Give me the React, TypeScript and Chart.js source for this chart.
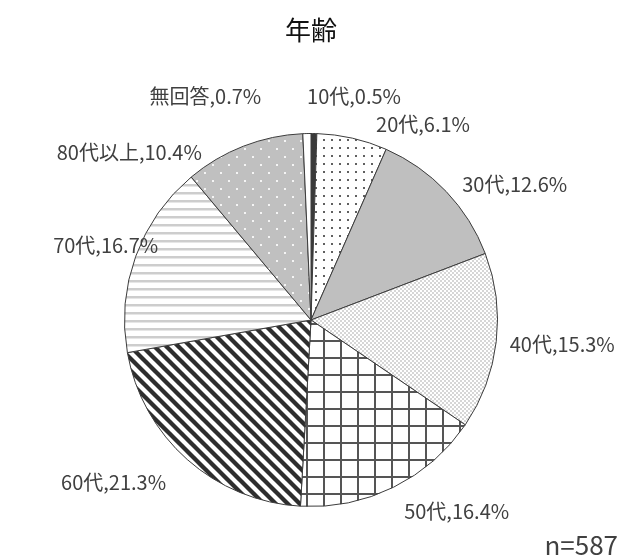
import React, { useEffect, useRef } from "react";
import { Chart, registerables } from "chart.js";

Chart.register(...registerables);

const categories = ["10代", "20代", "30代", "40代", "50代", "60代", "70代", "80代以上", "無回答"];
const percentages = [0.5, 6.1, 12.6, 15.3, 16.4, 21.3, 16.7, 10.4, 0.7];
const chartTitle = "年齢";
const sampleNote = "n=587";

// label layout relative to each slice: angular nudge (deg) and gap beyond rim (px)
const labelAngleNudge = [10, 17, 10, -1, -11, 9, 0, -26, -24];
const labelRimGap = [41, 39, 58, 66, 54, 69, 32, 61, 61];

function tile(w: number, h: number, draw: (c: CanvasRenderingContext2D) => void): CanvasPattern | string {
  const cv = document.createElement("canvas");
  cv.width = w;
  cv.height = h;
  const c = cv.getContext("2d");
  if (!c) return "#fff";
  draw(c);
  const p = c.createPattern(cv, "repeat");
  return p || "#fff";
}

function makeFills(): (CanvasPattern | string)[] {
  const dark = "#3a3a3a";
  const dotsDark = tile(8, 8, (c) => {
    c.fillStyle = "#fff";
    c.fillRect(0, 0, 8, 8);
    c.fillStyle = "#606060";
    c.fillRect(3, 3, 2, 2);
  });
  const fineDots = tile(4, 4, (c) => {
    c.fillStyle = "#fff";
    c.fillRect(0, 0, 4, 4);
    c.fillStyle = "#d6d6d6";
    c.fillRect(0, 0, 2, 2);
    c.fillRect(2, 2, 2, 2);
  });
  const grid = tile(17, 17, (c) => {
    c.fillStyle = "#fff";
    c.fillRect(0, 0, 17, 17);
    c.fillStyle = "#555555";
    c.fillRect(0, 0, 2, 17);
    c.fillRect(0, 0, 17, 2);
  });
  const diag = tile(12, 12, (c) => {
    c.fillStyle = "#fff";
    c.fillRect(0, 0, 12, 12);
    c.strokeStyle = "#2e2e2e";
    c.lineWidth = 4.3;
    for (let k = -1; k <= 1; k++) {
      c.beginPath();
      c.moveTo(k * 12 - 2, -2);
      c.lineTo(k * 12 + 14, 14);
      c.stroke();
    }
  });
  const hLines = tile(8, 8, (c) => {
    c.fillStyle = "#fff";
    c.fillRect(0, 0, 8, 8);
    c.fillStyle = "#cdcdcd";
    c.fillRect(0, 0, 8, 2.5);
  });
  const greyWhiteDots = tile(16, 16, (c) => {
    c.fillStyle = "#c0c0c0";
    c.fillRect(0, 0, 16, 16);
    c.fillStyle = "#f4f4f4";
    c.fillRect(4, 4, 2, 2);
    c.fillRect(12, 12, 2, 2);
  });
  return [dark, dotsDark, "#bfbfbf", fineDots, grid, diag, hLines, greyWhiteDots, "#ffffff"];
}

const labelPlugin = {
  id: "outerLabels",
  afterDraw(chart: any) {
    const ctx: CanvasRenderingContext2D = chart.ctx;
    const meta = chart.getDatasetMeta(0);
    const area = chart.chartArea;
    ctx.save();
    ctx.textAlign = "center";
    ctx.textBaseline = "middle";
    ctx.fillStyle = "#404040";
    ctx.font = '20px "Noto Sans CJK JP"';
    meta.data.forEach((arc: any, i: number) => {
      const p = arc.getProps(["x", "y", "startAngle", "endAngle", "outerRadius"], true);
      const a = (p.startAngle + p.endAngle) / 2 + (labelAngleNudge[i] * Math.PI) / 180;
      const d = p.outerRadius + labelRimGap[i];
      ctx.fillText(`${categories[i]},${percentages[i].toFixed(1)}%`, p.x + Math.cos(a) * d, p.y + Math.sin(a) * d);
    });
    ctx.fillStyle = "#111";
    ctx.font = '26px "Noto Sans CJK JP"';
    ctx.fillText(chartTitle, (area.left + area.right) / 2, 30);
    ctx.fillStyle = "#404040";
    ctx.font = '26px "Noto Sans CJK JP"';
    ctx.textAlign = "right";
    ctx.fillText(sampleNote, 618, 545);
    ctx.restore();
  },
};

export default function App() {
  const ref = useRef<HTMLCanvasElement | null>(null);
  useEffect(() => {
    document.body.style.margin = "0";
    if (!ref.current) return;
    const chart = new Chart(ref.current, {
      type: "pie",
      data: {
        labels: categories,
        datasets: [
          {
            data: percentages,
            backgroundColor: makeFills() as any,
            borderColor: "#3c3c3c",
            borderWidth: 1,
          },
        ],
      },
      options: {
        responsive: false,
        animation: false,
        layout: { padding: { left: 124, right: 125, top: 133, bottom: 53 } },
        plugins: {
          legend: { display: false },
          tooltip: { enabled: false },
          title: { display: false },
        },
      },
      plugins: [labelPlugin],
    });
    return () => chart.destroy();
  }, []);
  return (
    <div style={{ width: 623, height: 560, background: "#fff" }}>
      <canvas ref={ref} width={623} height={560} style={{ display: "block" }} />
    </div>
  );
}
